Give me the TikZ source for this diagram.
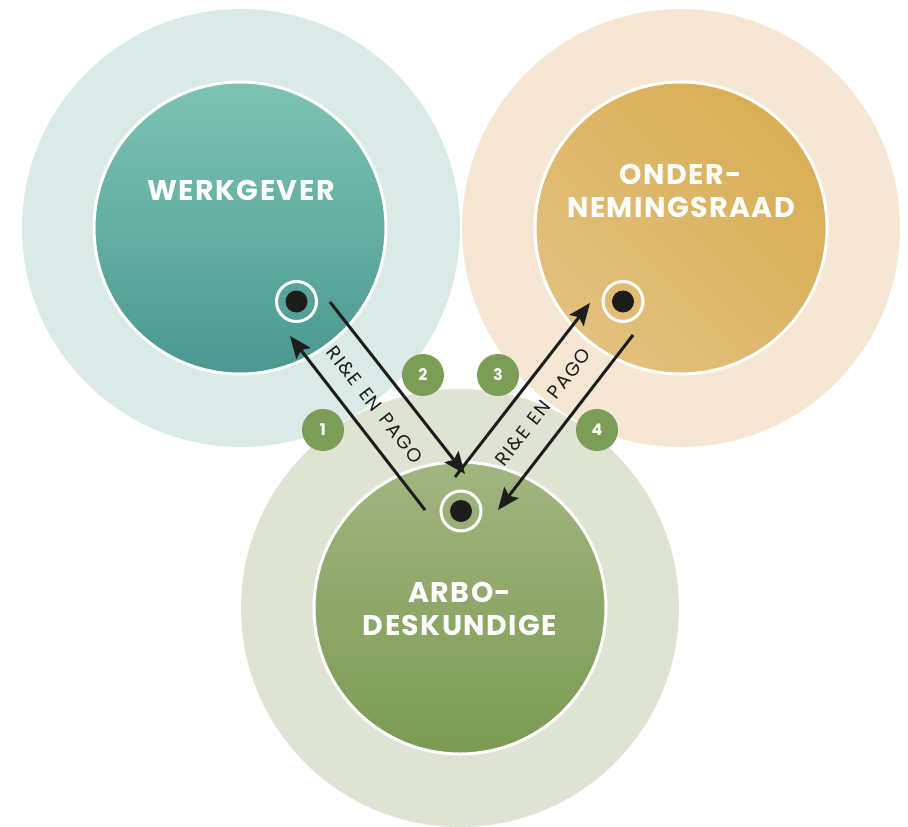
\documentclass[tikz,border=0pt]{standalone}
\usepackage{fontspec}
\setmainfont{Poppins}
\newfontfamily\titlefont[LetterSpace=5]{Poppins}
\newfontfamily\labelfont[LetterSpace=7, WordSpace=1.3]{Poppins}
\usetikzlibrary{arrows.meta}
\definecolor{wgOuter}{HTML}{DAEBE7}
\definecolor{wgTop}{HTML}{7DC3B4}
\definecolor{wgBot}{HTML}{4A9890}
\definecolor{orOuter}{HTML}{F5E7D3}
\definecolor{orLight}{HTML}{E2C07E}
\definecolor{orDark}{HTML}{D8AE55}
\definecolor{adOuter}{HTML}{DFE3D3}
\definecolor{adTop}{HTML}{A2B57F}
\definecolor{adBot}{HTML}{7A9A52}
\definecolor{badge}{HTML}{7C9D56}
\definecolor{ink}{HTML}{1D1D1B}
\tikzset{
  outerdisc/.style={circle, minimum size=438pt, inner sep=0pt},
  innerdisc/.style={circle, minimum size=292pt, inner sep=0pt, draw=white, line width=3pt},
  title/.style={text=white, font=\titlefont\bfseries\fontsize{28.5}{33}\selectfont, align=center},
  ring/.style={circle, minimum size=40pt, inner sep=0pt, draw=white, line width=3pt},
  core/.style={circle, minimum size=22pt, inner sep=0pt, fill=ink},
  badgenode/.style={circle, minimum size=42pt, inner sep=0pt, fill=badge, text=white, font=\bfseries\fontsize{16}{16}\selectfont},
  flow/.style={draw=ink, line width=3pt, -{Stealth[length=22pt, width=18pt, inset=4pt]}},
  flowlabel/.style={text=ink, font=\labelfont\fontsize{19}{19}\selectfont, inner sep=0pt}
}
\begin{document}
\begin{tikzpicture}[x=1pt, y=-1pt]
\useasboundingbox (0,0) rectangle (908,827);
% outer halos
\node[outerdisc, fill=wgOuter] (wgo) at (241,228) {};
\node[outerdisc, fill=orOuter] (oro) at (681,228) {};
\node[outerdisc, fill=adOuter] (ado) at (460,608) {};
% inner discs
\node[innerdisc, top color=wgTop, bottom color=wgBot] (wg) at (240,228) {};
\node[innerdisc, shading=axis, left color=orLight, right color=orDark, shading angle=135] (or) at (681,228) {};
\node[innerdisc, top color=adTop, bottom color=adBot] (ad) at (460,608) {};
% titles
\node[title] (wgt) at (241,190) {WERKGEVER};
\node[title] (ort) at (681,191) {ONDER-\\NEMINGSRAAD};
\node[title] (adt) at (460,609) {ARBO-\\DESKUNDIGE};
% contact points
\node[ring] (wgr) at (296.5,301.5) {};
\node[core] (wgc) at (296.5,301.5) {};
\node[ring] (orr) at (623,301.5) {};
\node[core] (orc) at (623,301.5) {};
\node[ring] (adr) at (461,511) {};
\node[core] (adc) at (461,511) {};
% arrow end points
\coordinate (a1s) at (425,510);
\coordinate (a1e) at (290,336);
\coordinate (a2s) at (330,302);
\coordinate (a2e) at (465,474);
\coordinate (a3s) at (455,477);
\coordinate (a3e) at (590,303);
\coordinate (a4s) at (633,335);
\coordinate (a4e) at (498,510);
\draw[flow] (a1s) -- (a1e);
\draw[flow] (a2s) -- (a2e);
\draw[flow] (a3s) -- (a3e);
\draw[flow] (a4s) -- (a4e);
% labels along the arrows
\node[flowlabel, rotate=-52] (l1) at (375,405) {RI\&E EN PAGO};
\node[flowlabel, rotate=52] (l2) at (543,407) {RI\&E EN PAGO};
% step badges
\node[badgenode] (b1) at (323,430) {1};
\node[badgenode] (b2) at (423,375) {2};
\node[badgenode] (b3) at (498,375) {3};
\node[badgenode] (b4) at (597,430) {4};
\end{tikzpicture}
\end{document}
